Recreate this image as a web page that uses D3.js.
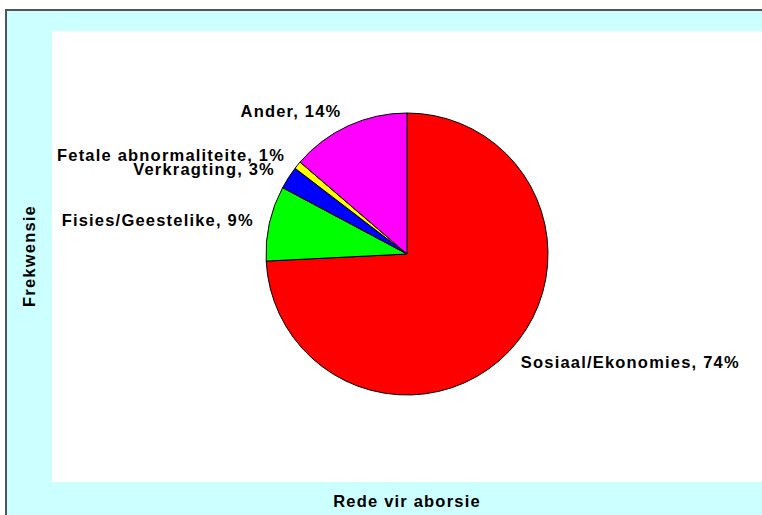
<!DOCTYPE html>
<html lang="af">
<head>
    <meta charset="UTF-8">
    <title>Rede vir aborsie</title>
    <script src="https://d3js.org/d3.v7.min.js"></script>
    <style>
        body {
            margin: 0;
            padding: 0;
            background: #ffffff;
            overflow: hidden;
        }

        text {
            font-family: "Liberation Sans", Arial, sans-serif;
            font-weight: bold;
            font-size: 16.5px;
            letter-spacing: 1.2px;
            fill: #000;
        }

        .slice {
            stroke: #000;
            stroke-width: 1;
        }
    </style>
</head>
<body>
    <div id="chart"></div>

    <script>
        // Data
        const categories = ["Sosiaal/Ekonomies", "Fisies/Geestelike", "Verkragting", "Fetale abnormaliteite", "Ander"];
        const values = [74.2, 8.6, 2.6, 0.9, 13.7];
        const colors = ["#ff0000", "#00ff00", "#0000ff", "#ffff00", "#ff00ff"];
        const xTitle = "Rede vir aborsie";
        const yTitle = "Frekwensie";

        const width = 762, height = 515;
        const plot = {x: 52, y: 31, w: 710, h: 451};
        const radius = 141;
        const cx = plot.x + plot.w / 2;
        const cy = plot.y + 223;

        const svg = d3.select("#chart")
            .append("svg")
            .attr("width", width)
            .attr("height", height);

        // Outer frame (cyan) and white plot area
        svg.append("rect")
            .attr("x", 6).attr("y", 10)
            .attr("width", width + 20).attr("height", height + 20)
            .attr("fill", "#ccffff")
            .attr("stroke", "#555")
            .attr("stroke-width", 2);

        svg.append("rect")
            .attr("x", plot.x).attr("y", plot.y)
            .attr("width", plot.w + 10).attr("height", plot.h)
            .attr("fill", "#ffffff");

        const data = categories.map((c, i) => ({name: c, value: values[i], color: colors[i]}));
        const total = d3.sum(values);

        const pie = d3.pie()
            .sort(null)
            .value(d => d.value);

        const arc = d3.arc()
            .innerRadius(0)
            .outerRadius(radius);

        const labelRadius = radius + 16;

        const g = svg.append("g")
            .attr("transform", `translate(${cx},${cy})`);

        const arcs = pie(data);

        g.selectAll("path.slice")
            .data(arcs)
            .enter()
            .append("path")
            .attr("class", "slice")
            .attr("fill", d => d.data.color)
            .attr("d", arc);

        // Labels outside each slice, at its mid angle
        g.selectAll("text.label")
            .data(arcs)
            .enter()
            .append("text")
            .attr("class", "label")
            .attr("x", d => labelRadius * Math.sin((d.startAngle + d.endAngle) / 2))
            .attr("y", d => -labelRadius * Math.cos((d.startAngle + d.endAngle) / 2))
            .attr("text-anchor", d => Math.sin((d.startAngle + d.endAngle) / 2) < 0 ? "end" : "start")
            .attr("dominant-baseline", "central")
            .text(d => `${d.data.name}, ${Math.round(d.data.value / total * 100)}%`);

        // Axis titles
        svg.append("text")
            .attr("x", cx)
            .attr("y", 507)
            .attr("text-anchor", "middle")
            .text(xTitle);

        svg.append("text")
            .attr("transform", `translate(29,${cy + 2}) rotate(-90)`)
            .attr("text-anchor", "middle")
            .attr("dominant-baseline", "central")
            .text(yTitle);
    </script>
</body>
</html>
